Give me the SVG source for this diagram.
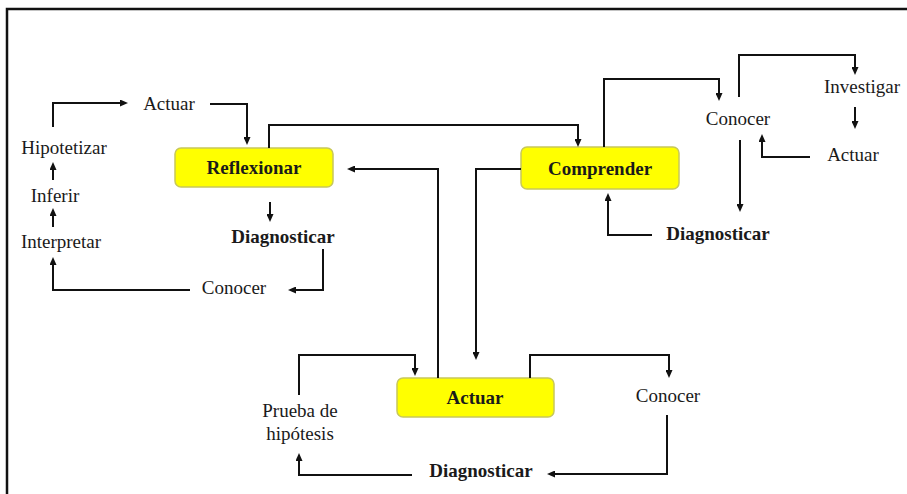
<svg xmlns="http://www.w3.org/2000/svg" width="907" height="494" viewBox="0 0 907 494">
<style>
.t{font-family:'Liberation Serif','DejaVu Serif',serif;font-size:19px;fill:#1a1a1a;text-anchor:middle}
.b{font-weight:bold}
.box{fill:#ffff00;stroke:#c8c85a;stroke-width:1.5}
.c path{fill:none;stroke:#111;stroke-width:2;marker-end:url(#ah)}
</style>
<defs>
<marker id="ah" markerUnits="userSpaceOnUse" markerWidth="8" markerHeight="7" refX="3" refY="3.5" orient="auto">
<path d="M0,0 L8,3.5 L0,7 z" fill="#111"/>
</marker>
</defs>
<rect width="907" height="494" fill="#fff"/>
<path d="M7,500 V9 H912" fill="none" stroke="#111" stroke-width="2.5"/>

<g id="reflexionar"><rect class="box" x="175" y="148" width="158" height="39" rx="6"/><text class="t b" x="254" y="174">Reflexionar</text></g>
<g id="comprender"><rect class="box" x="521" y="147" width="158" height="42" rx="6"/><text class="t b" x="600" y="175">Comprender</text></g>
<g id="actuar-main"><rect class="box" x="397" y="378" width="157" height="39" rx="6"/><text class="t b" x="475" y="404">Actuar</text></g>

<g id="l-actuar"><text class="t" x="169" y="110">Actuar</text></g>
<g id="l-hipotetizar"><text class="t" x="64" y="154">Hipotetizar</text></g>
<g id="l-inferir"><text class="t" x="55" y="202">Inferir</text></g>
<g id="l-interpretar"><text class="t" x="61" y="248">Interpretar</text></g>
<g id="l-diagnosticar"><text class="t b" x="283" y="243">Diagnosticar</text></g>
<g id="l-conocer"><text class="t" x="234" y="294">Conocer</text></g>

<g id="r-conocer"><text class="t" x="738" y="125">Conocer</text></g>
<g id="r-investigar"><text class="t" x="862" y="93">Investigar</text></g>
<g id="r-actuar"><text class="t" x="853" y="161">Actuar</text></g>
<g id="r-diagnosticar"><text class="t b" x="718" y="240">Diagnosticar</text></g>

<g id="b-prueba"><text class="t" x="300" y="417">Prueba de</text><text class="t" x="300" y="440">hipótesis</text></g>
<g id="b-conocer"><text class="t" x="668" y="402">Conocer</text></g>
<g id="b-diagnosticar"><text class="t b" x="481" y="477">Diagnosticar</text></g>

<g id="connectors" class="c">
<path d="M53,127 V103 H123"/>
<path d="M210,104 H247 V140"/>
<path d="M53,180 V167"/>
<path d="M53,227 V213"/>
<path d="M270,202 V217"/>
<path d="M323,249 V290 H293"/>
<path d="M190,290 H53 V262"/>
<path d="M269,148 V125 H578 V142"/>
<path d="M438,378 V169 H352"/>
<path d="M521,169 H476 V355"/>
<path d="M604,147 V79 H719 V96"/>
<path d="M739,97 V55 H855 V70"/>
<path d="M855,107 V124"/>
<path d="M810,157 H762 V139"/>
<path d="M740,140 V207"/>
<path d="M652,235 H608 V198"/>
<path d="M299,395 V355 H415 V371"/>
<path d="M530,378 V355 H669 V373"/>
<path d="M667,415 V474 H552"/>
<path d="M412,475 H299 V458"/>
</g>
</svg>
